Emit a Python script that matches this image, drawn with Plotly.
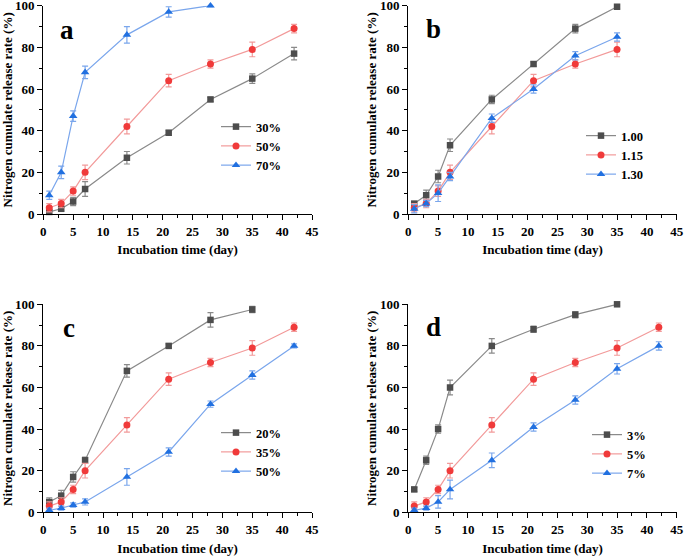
import plotly.graph_objects as go

# ---------------- data ----------------
days_full = [1, 3, 5, 7, 14, 21, 28, 35, 42]
days_35 = [1, 3, 5, 7, 14, 21, 28, 35]
days_28 = [1, 3, 5, 7, 14, 21, 28]

# panel a
a_30 = [1, 2.5, 6, 12, 27, 39, 55, 65, 77]
a_30_err = [1, 1, 2, 3.5, 3, 1.2, 1, 2.3, 3]
a_50 = [3, 5, 11, 20, 42, 64, 72, 79, 89]
a_50_err = [2, 2, 2, 3.5, 3.5, 3, 2, 3.5, 2]
a_70 = [9, 20, 47, 68, 86, 97, 100]
a_70_err = [2, 3, 2.5, 3, 4, 2.5, 0.5]

# panel b
b_100 = [5, 9, 18, 33, 55, 72, 89, 99.5]
b_100_err = [1, 2.5, 3, 3, 2, 1, 2, 1]
b_115 = [3, 5, 11, 20, 42, 64, 72, 79]
b_115_err = [2, 2, 2.5, 3.5, 3.5, 3, 2, 3.5]
b_130 = [2.5, 5, 10, 18, 46, 60, 76, 85]
b_130_err = [2, 1.5, 4, 2, 2, 2, 2, 2]

# panel c
c_20 = [5, 8, 17, 25, 68, 80, 92.5, 97.5]
c_20_err = [2, 2.5, 2.5, 1.5, 3, 1, 3.5, 1.5]
c_35 = [3, 5, 11, 20, 42, 64, 72, 79, 89]
c_35_err = [2, 2, 2, 3.5, 3.5, 3, 2, 3.5, 2]
c_50 = [1, 2, 3.5, 5, 17, 29, 52, 66, 80]
c_50_err = [1, 1, 1, 1.5, 4, 2, 1.5, 2, 1]

# panel d
d_3 = [11, 25, 40, 60, 80, 88, 95, 100]
d_3_err = [1, 2, 2, 3.5, 3.5, 1.5, 1.5, 0.5]
d_5 = [3, 5, 11, 20, 42, 64, 72, 79, 89]
d_5_err = [2, 2, 2, 3.5, 3.5, 3, 2, 3.5, 2]
d_7 = [1, 2, 5, 11, 25, 41, 54, 69, 80]
d_7_err = [1, 1, 3, 4.5, 3.5, 2, 2, 2.5, 2]

x_ticks = [0, 5, 10, 15, 20, 25, 30, 35, 40, 45]
y_ticks = [0, 20, 40, 60, 80, 100]

FONT = "Liberation Serif, DejaVu Serif, Noto Serif, serif"
GRAY_M, GRAY_L = "#4d4d4d", "#8a8a8a"
RED_M, RED_L = "#f03a3a", "#f29a9a"
BLUE_M, BLUE_L = "#2170e0", "#7aa6ec"

STYLES = [
    ("square", GRAY_M, GRAY_L, 6.5),
    ("circle", RED_M, RED_L, 7),
    ("triangle-up", BLUE_M, BLUE_L, 7.5),
]

panels = [
    ("a", [(days_full, a_30, a_30_err, "30%"), (days_full, a_50, a_50_err, "50%"), (days_28, a_70, a_70_err, "70%")]),
    ("b", [(days_35, b_100, b_100_err, "1.00"), (days_35, b_115, b_115_err, "1.15"), (days_35, b_130, b_130_err, "1.30")]),
    ("c", [(days_35, c_20, c_20_err, "20%"), (days_full, c_35, c_35_err, "35%"), (days_full, c_50, c_50_err, "50%")]),
    ("d", [(days_35, d_3, d_3_err, "3%"), (days_full, d_5, d_5_err, "5%"), (days_full, d_7, d_7_err, "7%")]),
]

W, H = 685, 556
# pixel boxes: (x0, x1, ytop, ybottom)
boxes = [(43.3, 312, 5.7, 214), (408.3, 676.7, 5.7, 214),
         (43.3, 312, 304.3, 512.3), (408.3, 676.7, 304.3, 512.3)]
legend_pos = [(216, 112), (581, 121), (216, 418), (587, 420)]
letter_pos = [(67, 30), (433, 29), (69, 328), (433, 327)]

fig = go.Figure()
layout = dict(
    width=W, height=H, margin=dict(l=0, r=0, t=0, b=0, autoexpand=False),
    paper_bgcolor="white", plot_bgcolor="white",
    font=dict(family=FONT, color="black"),
    showlegend=True,
)
annotations = []

for i, (letter, series) in enumerate(panels):
    n = "" if i == 0 else str(i + 1)
    xa, ya = "x" + n, "y" + n
    leg = "legend" + n
    for (xs, ys, es, name), (sym, mc, lc, ms) in zip(series, STYLES):
        fig.add_trace(go.Scatter(
            x=xs, y=ys, name=name, mode="lines+markers",
            xaxis=xa, yaxis=ya, legend=leg,
            line=dict(color=lc, width=1.2),
            marker=dict(symbol=sym, color=mc, size=ms),
            error_y=dict(type="data", array=es, color=lc, thickness=1.2, width=3),
            cliponaxis=False,
        ))
    x0, x1, yt, yb = boxes[i]
    axis_common = dict(
        showline=True, linecolor="black", linewidth=1.3, mirror=False,
        showgrid=False, zeroline=False, ticks="outside", ticklen=5,
        tickwidth=1.2, tickcolor="black", ticklabeloverflow="allow",
        automargin=False,
        tickfont=dict(family=FONT, size=13, color="black", weight="bold"),
    )
    layout["xaxis" + n] = dict(
        axis_common, domain=[x0 / W, x1 / W], anchor=ya, range=[0, 45],
        tickvals=x_ticks,
        minor=dict(ticks="outside", ticklen=3, tickcolor="black", dtick=2.5),
        title=dict(text="Incubation time (day)", standoff=7,
                   font=dict(family=FONT, size=13, color="black", weight="bold")),
    )
    layout["yaxis" + n] = dict(
        axis_common, domain=[1 - yb / H, 1 - yt / H], anchor=xa, range=[0, 100],
        tickvals=y_ticks,
        minor=dict(ticks="outside", ticklen=3, tickcolor="black", dtick=10),
        title=dict(text="Nitrogen cumulate release rate (%)", standoff=0,
                   font=dict(family=FONT, size=13, color="black", weight="bold")),
    )
    lx, ly = legend_pos[i]
    layout[leg] = dict(
        x=lx / W, y=1 - ly / H, xanchor="left", yanchor="top",
        bgcolor="rgba(0,0,0,0)", borderwidth=0, itemwidth=30,
        tracegroupgap=0,
        font=dict(family=FONT, size=12.5, color="black", weight="bold"),
    )
    px, py = letter_pos[i]
    annotations.append(dict(
        text=letter, x=px / W, y=1 - py / H, xref="paper", yref="paper",
        showarrow=False, xanchor="center", yanchor="middle",
        font=dict(family=FONT, size=27, color="black", weight="bold"),
    ))

layout["annotations"] = annotations
fig.update_layout(**layout)
fig.write_html("out.html",
               config={"displayModeBar": False},
               post_script="document.body.style.margin='0';document.body.style.overflow='hidden';")
